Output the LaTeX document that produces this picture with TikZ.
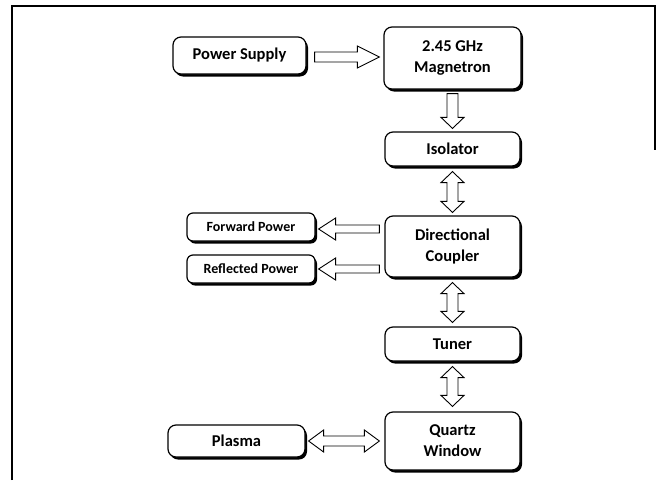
\documentclass[tikz,border=0pt]{standalone}
\usepackage{fontspec}
\setmainfont{Carlito}
\usetikzlibrary{calc,shadows}
\tikzset{
 blk/.style={draw=black, line width=1.2pt, rounded corners=8pt, fill=white, align=center,
   font=\fontsize{16.5}{21}\selectfont\bfseries, inner sep=0pt,
   drop shadow={shadow xshift=2pt, shadow yshift=-2.5pt, fill=black, opacity=1}},
 sblk/.style={blk, rounded corners=6pt, font=\fontsize{14}{16}\selectfont\bfseries},
 arw/.style={draw=black, fill=white, line width=0.9pt, line join=miter},
 frame/.style={draw=black, line width=2pt}
}
% horizontal single arrow: tail, tip, shaft half, head half, head length
\newcommand\harrow[5]{\draw[arw] let \p1=(#1),\p2=(#2),\n1={sign(\x2-\x1)} in
 (\x1,\y1+#3) -- ({\x2-\n1*#5},\y1+#3) -- ({\x2-\n1*#5},\y1+#4) -- (\x2,\y1) --
 ({\x2-\n1*#5},\y1-#4) -- ({\x2-\n1*#5},\y1-#3) -- (\x1,\y1-#3) -- cycle;}
% horizontal double arrow
\newcommand\hdarrow[5]{\draw[arw] let \p1=(#1),\p2=(#2),\n1={sign(\x2-\x1)} in
 ({\x1+\n1*#5},\y1+#3) -- ({\x2-\n1*#5},\y1+#3) -- ({\x2-\n1*#5},\y1+#4) -- (\x2,\y1) --
 ({\x2-\n1*#5},\y1-#4) -- ({\x2-\n1*#5},\y1-#3) -- ({\x1+\n1*#5},\y1-#3) --
 ({\x1+\n1*#5},\y1-#4) -- (\x1,\y1) -- ({\x1+\n1*#5},\y1+#4) -- cycle;}
% vertical single arrow
\newcommand\varrow[5]{\draw[arw] let \p1=(#1),\p2=(#2),\n1={sign(\y2-\y1)} in
 (\x1+#3,\y1) -- (\x1+#3,{\y2-\n1*#5}) -- (\x1+#4,{\y2-\n1*#5}) -- (\x1,\y2) --
 (\x1-#4,{\y2-\n1*#5}) -- (\x1-#3,{\y2-\n1*#5}) -- (\x1-#3,\y1) -- cycle;}
% vertical double arrow
\newcommand\vdarrow[5]{\draw[arw] let \p1=(#1),\p2=(#2),\n1={sign(\y2-\y1)} in
 (\x1+#3,{\y1+\n1*#5}) -- (\x1+#3,{\y2-\n1*#5}) -- (\x1+#4,{\y2-\n1*#5}) -- (\x1,\y2) --
 (\x1-#4,{\y2-\n1*#5}) -- (\x1-#3,{\y2-\n1*#5}) -- (\x1-#3,{\y1+\n1*#5}) --
 (\x1-#4,{\y1+\n1*#5}) -- (\x1,\y1) -- (\x1+#4,{\y1+\n1*#5}) -- cycle;}
\begin{document}
\begin{tikzpicture}[x=1pt,y=-1pt]
\useasboundingbox (0,0) rectangle (665,480);
\draw[frame] (12,480) -- (12,6) -- (655,6) -- (655,150);

\node[blk, minimum width=133pt, minimum height=37pt] (ps)  at (239.5,55.5) {Power Supply};
\node[blk, minimum width=137pt, minimum height=62pt] (mag) at (452.5,58) {2.45 GHz\\Magnetron};
\node[blk, minimum width=135pt, minimum height=34pt] (iso) at (452.5,149) {Isolator};
\node[blk, minimum width=135pt, minimum height=61pt] (dc)  at (452.5,246.5) {Directional\\Coupler};
\node[blk, minimum width=135pt, minimum height=34pt] (tun) at (452.5,344) {Tuner};
\node[blk, minimum width=135pt, minimum height=58pt] (qw)  at (452.5,441) {Quartz\\Window};
\node[sblk, minimum width=128pt, minimum height=28pt] (fp) at (251,227) {Forward Power};
\node[sblk, minimum width=128pt, minimum height=28pt] (rp) at (251,269) {Reflected Power};
\node[blk, minimum width=137pt, minimum height=32pt] (pl) at (236.5,441) {Plasma};

\harrow{$(ps.east)+(8,1.5)$}{$(mag.west |- ps.east)+(-4,1.5)$}{5pt}{11pt}{22pt}
\varrow{$(mag.south)+(0,4)$}{$(iso.north)+(0,-3)$}{5.5pt}{11.5pt}{11pt}
\vdarrow{$(iso.south)+(0,5)$}{$(dc.north)+(0,-3)$}{5.5pt}{11.5pt}{11pt}
\harrow{$(dc.west |- fp.east)+(-5,2)$}{$(fp.east)+(3,2)$}{4pt}{11pt}{17pt}
\harrow{$(dc.west |- rp.east)+(-5,0)$}{$(rp.east)+(3,0)$}{4pt}{11pt}{17pt}
\vdarrow{$(dc.south)+(0,5)$}{$(tun.north)+(0,-4)$}{5.5pt}{11.5pt}{11pt}
\vdarrow{$(tun.south)+(0,5)$}{$(qw.north)+(0,-5)$}{5.5pt}{11.5pt}{11pt}
\hdarrow{$(pl.east)+(3,0)$}{$(qw.west)+(-5,0)$}{5pt}{11pt}{15pt}
\end{tikzpicture}
\end{document}
